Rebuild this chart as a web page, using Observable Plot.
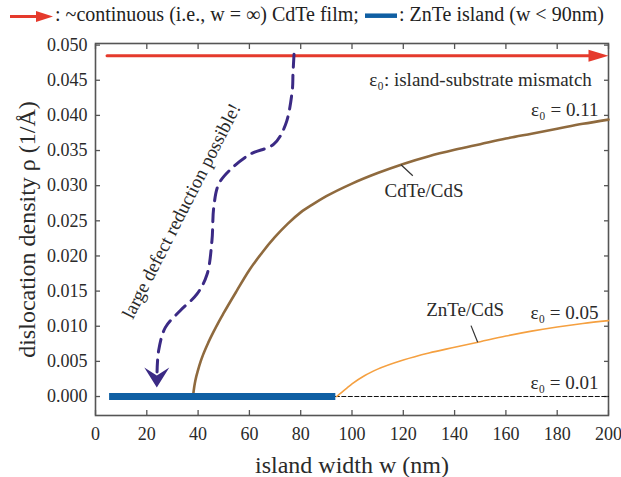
<!DOCTYPE html>
<html>
<head>
<meta charset="utf-8">
<script src="https://cdn.jsdelivr.net/npm/d3@7"></script>
<script src="https://cdn.jsdelivr.net/npm/@observablehq/plot@0.6"></script>
<style>
  body { margin: 0; background: #fff; font-family: "Liberation Serif", "Times New Roman", serif; }
  #legend { display: block; }
</style>
</head>
<body>
<svg id="legend" width="621" height="30">
  <line x1="10" y1="16.5" x2="40" y2="16.5" stroke="#e53a2c" stroke-width="3"/>
  <polygon points="36,11 53,16.5 36,22" fill="#e53a2c"/>
  <text x="55" y="21" font-size="20" fill="#222" font-family="Liberation Serif, serif">: ~continuous (i.e., w = ∞) CdTe film;</text>
  <line x1="365" y1="15.7" x2="397" y2="15.7" stroke="#0f5fa3" stroke-width="4.5"/>
  <text x="399" y="21" font-size="20" fill="#222" font-family="Liberation Serif, serif">: ZnTe island (w &lt; 90nm)</text>
</svg>
<div id="chart"></div>
<script>
// ---- data ----
const xTicks = [0, 20, 40, 60, 80, 100, 120, 140, 160, 180, 200];
const yTicks = [0, 0.005, 0.010, 0.015, 0.020, 0.025, 0.030, 0.035, 0.040, 0.045, 0.050];

// CdTe/CdS (eps0 = 0.11)
const cdteW   = [38, 38.5, 39, 40, 41, 42, 44, 46, 48, 50, 55, 60, 65, 70, 75, 80, 85, 90, 100, 110, 120, 130, 140, 150, 160, 170, 180, 190, 200];
const cdteRho = [0, 0.0014, 0.0024, 0.0038, 0.0050, 0.0060, 0.0077, 0.0092, 0.0106, 0.0119, 0.0150, 0.0180, 0.0205, 0.0227, 0.0246, 0.0262, 0.0274, 0.0285, 0.0303, 0.0318, 0.0331, 0.0342, 0.0351, 0.0359, 0.0367, 0.0374, 0.0381, 0.0388, 0.0394];

// ZnTe/CdS (eps0 = 0.05)
const znteW   = [94, 96, 98, 100, 105, 110, 120, 130, 140, 150, 160, 170, 180, 190, 200];
const znteRho = [0, 0.0006, 0.0012, 0.0018, 0.0030, 0.0039, 0.0052, 0.0062, 0.0070, 0.0078, 0.0086, 0.0093, 0.0099, 0.0104, 0.0108];

// eps0 = 0.01 (zero) beyond island
const flatW   = [93.5, 200];
const flatRho = [0, 0];

// continuous CdTe film (w = infinity)
const filmW   = [4.5, 197];
const filmRho = [0.0485, 0.0485];
const filmTip = {w: 200, rho: 0.0485};

// ZnTe island (w < 90 nm)
const islandW   = [5.3, 93.5];
const islandRho = [0, 0];

// defect reduction path
const pathW   = [77.4, 77.0, 76.7, 74.1, 69.5, 60.4, 52.6, 48.0, 46.1, 45.4, 43.5, 39.6, 33.0, 27.2, 24.6, 24.0];
const pathRho = [0.0487, 0.0460, 0.0435, 0.0387, 0.0359, 0.0345, 0.0323, 0.0302, 0.0269, 0.0222, 0.0174, 0.0146, 0.0122, 0.0098, 0.0065, 0.0035];
const pathTip = {w: 23.9, rho: 0.0013};

// annotations (right-aligned)
const endText = ["ε₀: island-substrate mismatch", "ε₀ = 0.11", "ε₀ = 0.05", "ε₀ = 0.01"];
const endW    = [193.5, 196.1, 196.1, 196.1];
const endRho  = [0.0451, 0.0408, 0.01194, 0.0020];
// annotations (centred)
const midText = ["CdTe/CdS", "ZnTe/CdS"];
const midW    = [128.1, 144.1];
const midRho  = [0.0292, 0.01237];

const leaderW1 = [119.1, 149.0], leaderRho1 = [0.03298, 0.00772];
const leaderW2 = [123.7, 146.4], leaderRho2 = [0.03142, 0.01009];

const rotText = "large defect reduction possible!";
const rotPos = {w: 33.5, rho: 0.0264};

// ---- build ----
const toRows = (xs, ys) => xs.map((x, i) => ({x, y: ys[i]}));
const endLabels = endText.map((t, i) => ({text: t, x: endW[i], y: endRho[i]}));
const midLabels = midText.map((t, i) => ({text: t, x: midW[i], y: midRho[i]}));
const leaders = leaderW1.map((x, i) => ({x1: x, y1: leaderRho1[i], x2: leaderW2[i], y2: leaderRho2[i]}));

const headRight = {draw(ctx) { ctx.moveTo(0, 0); ctx.lineTo(-20, -6); ctx.lineTo(-20, 6); ctx.closePath(); }};
const headDown  = {draw(ctx) { ctx.moveTo(0, 0); ctx.lineTo(-12.5, -20); ctx.lineTo(0, -12); ctx.lineTo(12.5, -20); ctx.closePath(); }};

const fmt = d3.format(".3f");
const axisColor = "#555";
const textColor = "#2a2a2a";

const chart = Plot.plot({
  width: 621,
  height: 447,
  marginLeft: 95,
  marginRight: 13,
  marginTop: 13,
  marginBottom: 62,
  style: {fontFamily: "Liberation Serif, serif", fontSize: "18px", color: textColor, background: "#fff", overflow: "visible"},
  x: {domain: [0, 200], ticks: xTicks},
  y: {domain: [-0.0027, 0.05023], ticks: yTicks},
  marks: [
    // tick labels
    Plot.axisX(xTicks, {anchor: "bottom", tickSize: 0, tickPadding: 12, fontSize: 18, fill: textColor, label: null}),
    Plot.axisY(yTicks, {anchor: "left", tickSize: 0, tickPadding: 8, fontSize: 18, fill: textColor, tickFormat: fmt, label: null}),
    // inward ticks on all sides
    Plot.axisX(xTicks, {anchor: "bottom", tickSize: -5, stroke: axisColor, strokeWidth: 1.3, tickFormat: () => "", label: null}),
    Plot.axisX(xTicks, {anchor: "top", tickSize: -5, stroke: axisColor, strokeWidth: 1.3, tickFormat: () => "", label: null}),
    Plot.axisY(yTicks, {anchor: "left", tickSize: -5, stroke: axisColor, strokeWidth: 1.3, tickFormat: () => "", label: null}),
    Plot.axisY(yTicks, {anchor: "right", tickSize: -5, stroke: axisColor, strokeWidth: 1.3, tickFormat: () => "", label: null}),
    Plot.frame({stroke: axisColor, strokeWidth: 1.6}),
    // axis titles
    Plot.text(["island width w (nm)"], {frameAnchor: "bottom", textAnchor: "middle", lineAnchor: "bottom", dy: 57, fontSize: 24, fill: textColor}),
    Plot.text(["dislocation density ρ (1/Å)"], {frameAnchor: "left", textAnchor: "middle", lineAnchor: "middle", dx: -68, rotate: -90, fontSize: 24, fill: textColor}),
    // eps0 = 0.01 dashed zero line
    Plot.line(toRows(flatW, flatRho), {x: "x", y: "y", stroke: "#111", strokeWidth: 1.2, strokeDasharray: "4,2.5"}),
    // ZnTe/CdS
    Plot.line(toRows(znteW, znteRho), {x: "x", y: "y", stroke: "#f5a040", strokeWidth: 1.6, curve: "monotone-x"}),
    // CdTe/CdS
    Plot.line(toRows(cdteW, cdteRho), {x: "x", y: "y", stroke: "#8f6a3e", strokeWidth: 2.6, curve: "monotone-x"}),
    // island bar
    Plot.line(toRows(islandW, islandRho), {x: "x", y: "y", stroke: "#0f5fa3", strokeWidth: 7, strokeLinecap: "butt"}),
    // continuous film arrow
    Plot.line(toRows(filmW, filmRho), {x: "x", y: "y", stroke: "#e53a2c", strokeWidth: 3}),
    Plot.dot([filmTip], {x: "w", y: "rho", symbol: headRight, fill: "#e53a2c", stroke: "none"}),
    // defect reduction path
    Plot.line(toRows(pathW, pathRho), {x: "x", y: "y", stroke: "#3b2a85", strokeWidth: 3, strokeDasharray: "13,8", curve: "catmull-rom"}),
    Plot.dot([pathTip], {x: "w", y: "rho", symbol: headDown, fill: "#3b2a85", stroke: "none"}),
    // leaders
    Plot.link(leaders, {x1: "x1", y1: "y1", x2: "x2", y2: "y2", stroke: "#333", strokeWidth: 1.2}),
    // labels
    Plot.text(endLabels, {x: "x", y: "y", text: "text", textAnchor: "end", fontSize: 19, fill: textColor}),
    Plot.text(midLabels, {x: "x", y: "y", text: "text", textAnchor: "middle", fontSize: 19, fill: textColor}),
    Plot.text([rotPos], {x: "w", y: "rho", text: () => rotText, rotate: -63, fontSize: 19, fill: textColor})
  ]
});
document.getElementById("chart").appendChild(chart);
</script>
</body>
</html>
